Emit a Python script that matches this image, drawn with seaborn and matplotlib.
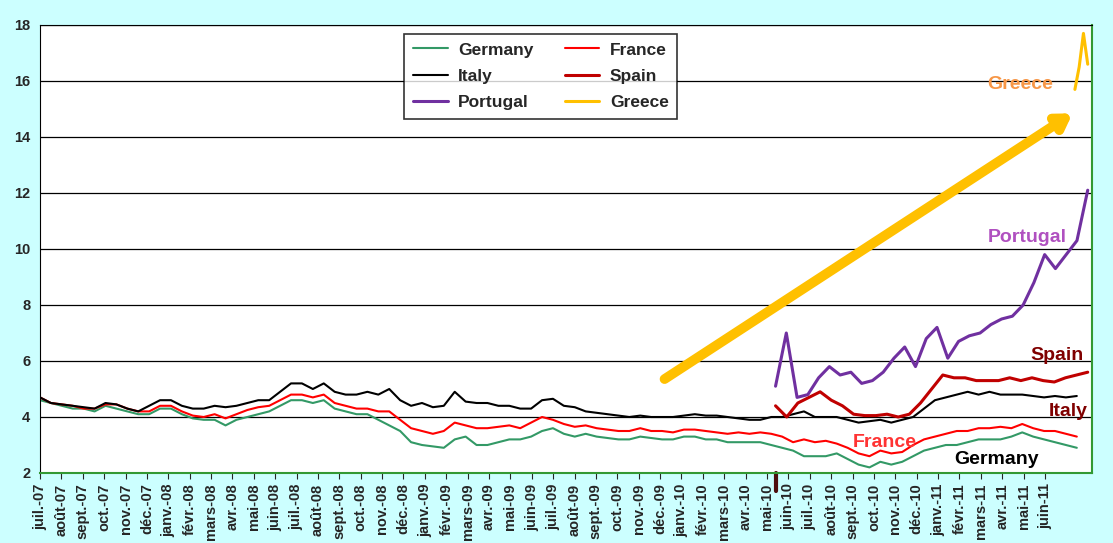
import numpy as np
import pandas as pd
import matplotlib
matplotlib.use("Agg")
import matplotlib.pyplot as plt
import seaborn as sns

months = ["juil.-07", "août-07", "sept.-07", "oct.-07", "nov.-07", "déc.-07",
          "janv.-08", "févr.-08", "mars-08", "avr.-08", "mai-08", "juin-08",
          "juil.-08", "août-08", "sept.-08", "oct.-08", "nov.-08", "déc.-08",
          "janv.-09", "févr.-09", "mars-09", "avr.-09", "mai-09", "juin-09",
          "juil.-09", "août-09", "sept.-09", "oct.-09", "nov.-09", "déc.-09",
          "janv.-10", "févr.-10", "mars-10", "avr.-10", "mai-10", "juin-10",
          "juil.-10", "août-10", "sept.-10", "oct.-10", "nov.-10", "déc.-10",
          "janv.-11", "févr.-11", "mars-11", "avr.-11", "mai-11", "juin-11"]

# half-month readings, Jul 2007 -> Jun 2011
germany = [4.6, 4.5, 4.4, 4.3, 4.3, 4.2, 4.4, 4.3, 4.2, 4.1, 4.1, 4.3,
           4.3, 4.1, 3.95, 3.9, 3.9, 3.7, 3.9, 4.0, 4.1, 4.2, 4.4, 4.6,
           4.6, 4.5, 4.6, 4.3, 4.2, 4.1, 4.1, 3.9, 3.7, 3.5, 3.1, 3.0,
           2.95, 2.9, 3.2, 3.3, 3.0, 3.0, 3.1, 3.2, 3.2, 3.3, 3.5, 3.6,
           3.4, 3.3, 3.4, 3.3, 3.25, 3.2, 3.2, 3.3, 3.25, 3.2, 3.2, 3.3,
           3.3, 3.2, 3.2, 3.1, 3.1, 3.1, 3.1, 3.0, 2.9, 2.8, 2.6, 2.6,
           2.6, 2.7, 2.5, 2.3, 2.2, 2.4, 2.3, 2.4, 2.6, 2.8, 2.9, 3.0,
           3.0, 3.1, 3.2, 3.2, 3.2, 3.3, 3.45, 3.3, 3.2, 3.1, 3.0, 2.9]
france = [4.7, 4.5, 4.45, 4.4, 4.3, 4.3, 4.45, 4.45, 4.3, 4.2, 4.2, 4.4,
          4.4, 4.2, 4.05, 4.0, 4.1, 3.95, 4.1, 4.25, 4.35, 4.4, 4.6, 4.8,
          4.8, 4.7, 4.8, 4.5, 4.4, 4.3, 4.3, 4.2, 4.2, 3.9, 3.6, 3.5,
          3.4, 3.5, 3.8, 3.7, 3.6, 3.6, 3.65, 3.7, 3.6, 3.8, 4.0, 3.9,
          3.75, 3.65, 3.7, 3.6, 3.55, 3.5, 3.5, 3.6, 3.5, 3.5, 3.45, 3.55,
          3.55, 3.5, 3.45, 3.4, 3.45, 3.4, 3.45, 3.4, 3.3, 3.1, 3.2, 3.1,
          3.15, 3.05, 2.9, 2.7, 2.6, 2.8, 2.7, 2.75, 3.0, 3.2, 3.3, 3.4,
          3.5, 3.5, 3.6, 3.6, 3.65, 3.6, 3.75, 3.6, 3.5, 3.5, 3.4, 3.3]
italy = [4.7, 4.5, 4.45, 4.4, 4.35, 4.3, 4.5, 4.45, 4.3, 4.2, 4.4, 4.6,
         4.6, 4.4, 4.3, 4.3, 4.4, 4.35, 4.4, 4.5, 4.6, 4.6, 4.9, 5.2,
         5.2, 5.0, 5.2, 4.9, 4.8, 4.8, 4.9, 4.8, 5.0, 4.6, 4.4, 4.5,
         4.35, 4.4, 4.9, 4.55, 4.5, 4.5, 4.4, 4.4, 4.3, 4.3, 4.6, 4.65,
         4.4, 4.35, 4.2, 4.15, 4.1, 4.05, 4.0, 4.05, 4.0, 4.0, 4.0, 4.05,
         4.1, 4.05, 4.05, 4.0, 3.95, 3.9, 3.9, 4.0, 4.0, 4.1, 4.2, 4.0,
         4.0, 4.0, 3.9, 3.8, 3.85, 3.9, 3.8, 3.9, 4.0, 4.3, 4.6, 4.7,
         4.8, 4.9, 4.8, 4.9, 4.8, 4.8, 4.8, 4.75, 4.7, 4.75, 4.7, 4.75]
# from end of April 2010
spain = [4.4, 4.0, 4.5, 4.7, 4.9, 4.6, 4.4, 4.1, 4.05, 4.05, 4.1, 4.0, 4.1,
         4.5, 5.0, 5.5, 5.4, 5.4, 5.3, 5.3, 5.3, 5.4, 5.3, 5.4, 5.3,
         5.25, 5.4, 5.5, 5.6]
portugal = [5.1, 7.0, 4.7, 4.8, 5.4, 5.8, 5.5, 5.6, 5.2, 5.3, 5.6, 6.1,
            6.5, 5.8, 6.8, 7.2, 6.1, 6.7, 6.9, 7.0, 7.3, 7.5, 7.6, 8.0,
            8.8, 9.8, 9.3, 9.8, 10.3, 12.1]
greece = [15.7, 16.5, 17.7, 16.6]

step = 0.5 * 49.0 / 48.0
x_core = np.arange(len(germany)) * step
x_late = 34.4 + np.arange(len(spain)) * (49.0 - 34.4) / (len(spain) - 1)
x_port = 34.4 + np.arange(len(portugal)) * (49.0 - 34.4) / (len(portugal) - 1)
x_gr = np.linspace(48.4, 49.0, len(greece))

frames = [pd.DataFrame({"x": x_core, "y": germany, "s": "Germany"}),
          pd.DataFrame({"x": x_core, "y": france, "s": "France"}),
          pd.DataFrame({"x": x_core, "y": italy, "s": "Italy"}),
          pd.DataFrame({"x": x_late, "y": spain, "s": "Spain"}),
          pd.DataFrame({"x": x_port, "y": portugal, "s": "Portugal"}),
          pd.DataFrame({"x": x_gr, "y": greece, "s": "Greece"})]
df = pd.concat(frames, ignore_index=True)

palette = {"Germany": "#339966", "France": "#ff0000", "Italy": "#000000",
           "Spain": "#c00000", "Portugal": "#7030a0", "Greece": "#ffc000"}
widths = {"Germany": 1.5, "France": 1.5, "Italy": 1.5,
          "Spain": 2.2, "Portugal": 2.2, "Greece": 2.2}

sns.set_style("white")
plt.rcParams["font.family"] = ["Liberation Sans", "DejaVu Sans"]
fig = plt.figure(figsize=(11.13, 5.43), dpi=100)
fig.patch.set_facecolor("#ccffff")
ax = fig.add_axes([40 / 1113, 70 / 543, 1052 / 1113, 448 / 543])

ax.annotate("", xy=(48.4, 14.9), xytext=(29.1, 5.3),
            arrowprops=dict(arrowstyle="-|>,head_length=0.8,head_width=0.5",
                            color="#ffc000", lw=7))
handles = {}
for name in palette:
    sub = df[df["s"] == name]
    sns.lineplot(data=sub, x="x", y="y", color=palette[name], lw=widths[name],
                 ax=ax, sort=False)
    handles[name] = ax.lines[-1]
ax.plot([34.4, 34.4], [2.0, 1.35], color="#4d0f0f", lw=3, clip_on=False)

ax.set_xlim(0, 49.2)
ax.set_ylim(2, 18)
ax.set_yticks(range(2, 19, 2))
ax.grid(axis="y", color="black", lw=0.9)
ax.set_xticks(range(len(months)))
ax.set_xticklabels(months, rotation=90, fontsize=10.5, fontweight="bold")
ax.tick_params(axis="y", labelsize=10.5)
ax.tick_params(axis="x", length=4, direction="out", bottom=True)
for lab in ax.get_yticklabels():
    lab.set_fontweight("bold")
ax.set_xlabel("")
ax.set_ylabel("")
for s in ["right", "bottom"]:
    ax.spines[s].set_color("#339933")
    ax.spines[s].set_linewidth(1.5)
ax.spines["left"].set_color("black")
ax.spines["top"].set_color("black")

order = ["Germany", "Italy", "Portugal", "France", "Spain", "Greece"]
leg = ax.legend([handles[n] for n in order], order, loc="upper left",
                bbox_to_anchor=(0.338, 1.0), ncol=2,
                frameon=True, fancybox=False, edgecolor="black",
                prop={"weight": "bold", "size": 12.5}, handlelength=2.0,
                handletextpad=0.6, columnspacing=1.8, labelspacing=0.65,
                borderpad=0.5)
leg.get_frame().set_linewidth(1.2)

lab_style = dict(fontsize=14, fontweight="bold", va="center")
ax.text(47.4, 15.86, "Greece", color="#f79646", ha="right", **lab_style)
ax.text(48.0, 10.4, "Portugal", color="#b050c0", ha="right", **lab_style)
ax.text(48.8, 6.2, "Spain", color="#800000", ha="right", **lab_style)
ax.text(49.0, 4.2, "Italy", color="#800000", ha="right", **lab_style)
ax.text(38.0, 3.1, "France", color="#ff3333", ha="left", **lab_style)
ax.text(46.7, 2.5, "Germany", color="black", ha="right", **lab_style)

fig.savefig("out.png", dpi=100, facecolor=fig.get_facecolor())
